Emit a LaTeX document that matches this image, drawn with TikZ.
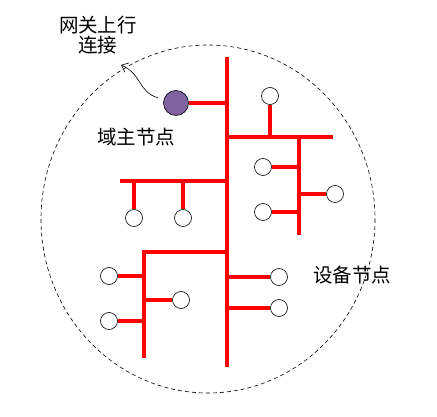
\documentclass[tikz,border=0pt]{standalone}
\usepackage{fontspec}
\newfontfamily\cjk{Noto Sans CJK SC}
\usetikzlibrary{arrows.meta}
\definecolor{hdpurple}{HTML}{8064A2}

\begin{document}
\begin{tikzpicture}[
  x=1pt, y=-1pt,
  bus/.style={draw=red, line width=3.2pt},
  dev/.style={circle, draw, line width=0.6pt, fill=white, minimum size=17pt, inner sep=0pt},
  hd/.style={circle, draw, line width=0.6pt, fill=hdpurple, minimum size=25pt, inner sep=0pt},
  lbl/.style={font=\cjk\fontsize{19.5}{20}\selectfont, align=center, inner sep=0pt}
]

\useasboundingbox (0,0) rectangle (437,417);

\draw [line width=0.6pt, dash pattern=on 4pt off 3pt] (208,219) ellipse [x radius=167, y radius=174];

% trunk
\coordinate (t0) at (227,57);
\coordinate (t1) at (227,367);
\draw [bus] (t0) -- (t1);

% head node
\node [hd] (head) at (176,103) {};
\draw [bus] (head) -- (head -| t0);

% upper right branch
\coordinate (r0) at (227,137);
\coordinate (r1) at (333,137);
\draw [bus] (r0) -- (r1);
\node [dev] (n1) at (270,96) {};
\draw [bus] (n1) -- (n1 |- r0);

\coordinate (s0) at (299,137);
\coordinate (s1) at (299,235);
\draw [bus] (s0) -- (s1);
\node [dev] (n2) at (263,167) {};
\node [dev] (n3) at (263,212) {};
\node [dev] (n4) at (335,194) {};
\draw [bus] (n2) -- (n2 -| s0);
\draw [bus] (n3) -- (n3 -| s0);
\draw [bus] (n4) -- (n4 -| s0);

% left branch
\coordinate (l0) at (120,181);
\draw [bus] (l0) -- (l0 -| t0);
\node [dev] (n5) at (134,218) {};
\node [dev] (n6) at (183,218) {};
\draw [bus] (n5) -- (n5 |- l0);
\draw [bus] (n6) -- (n6 |- l0);

% lower left branch
\coordinate (b0) at (144,252);
\coordinate (b1) at (144,358);
\draw [bus] (b1) -- (b0) -- (b0 -| t0);
\node [dev] (n7) at (109,276) {};
\node [dev] (n8) at (109,321) {};
\node [dev] (n9) at (181,300) {};
\draw [bus] (n7) -- (n7 -| b0);
\draw [bus] (n8) -- (n8 -| b0);
\draw [bus] (n9) -- (n9 -| b0);

% right of trunk
\node [dev] (n10) at (279,277) {};
\node [dev] (n11) at (279,308) {};
\draw [bus] (n10) -- (n10 -| t0);
\draw [bus] (n11) -- (n11 -| t0);

% labels
\node [lbl] (gwtxt) at (98,35) {网关上行\\连接};
\node [lbl] (hdtxt) at (136,137) {域主节点};
\node [lbl] (devtxt) at (352,275) {设备节点};

% uplink arrow
\coordinate (gw) at (121,65);
\draw [-{Straight Barb[length=6pt,width=10pt]}, line width=0.6pt, shorten <=6pt]
  (head) .. controls (138,92) and (142,74) .. (gw);

\end{tikzpicture}
\end{document}
